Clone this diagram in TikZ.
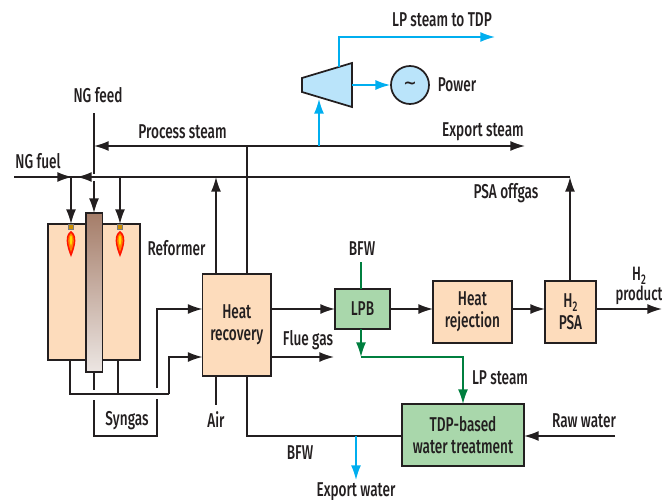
\documentclass[tikz,border=0pt]{standalone}
\usepackage{fontspec}
\setmainfont[FakeStretch=0.68]{Fira Sans Medium}
\newfontfamily\tildefont{DejaVu Sans Bold}
\usetikzlibrary{arrows.meta,calc}
\definecolor{peach}{HTML}{FDDCBC}
\definecolor{palegreen}{HTML}{A9D7AB}
\definecolor{paleblue}{HTML}{BAE4FA}
\definecolor{cyanline}{HTML}{00AEEF}
\definecolor{greenline}{HTML}{007F3F}
\definecolor{ink}{HTML}{231F20}
\tikzset{
  x=0.75pt,y=-0.75pt,
  flow/.style={draw=ink,line width=1.15pt},
  flowa/.style={flow,-{Latex[length=11pt,width=7.5pt]}},
  cyanflow/.style={draw=cyanline,line width=1.15pt},
  cyana/.style={cyanflow,-{Latex[length=11pt,width=7.5pt]}},
  greenflow/.style={draw=greenline,line width=1.15pt},
  greena/.style={greenflow,-{Latex[length=11pt,width=7.5pt]}},
  unit/.style={draw=ink,line width=1.3pt,outer sep=0pt,fill=peach,align=center,inner sep=0pt,text=ink,font=\fontsize{15}{16.5}\selectfont},
  gunit/.style={unit,fill=palegreen},
  lab/.style={text=ink,font=\fontsize{15}{15}\selectfont,inner sep=0pt,align=center},
}
\newcommand{\flame}[1]{%
  \fill[fill=orange!60!yellow!80!black,draw=ink!60,line width=0.3pt] ($(#1)+(-2.5,-3)$) rectangle ($(#1)+(2.5,2)$);
  \fill[red!85!orange] ($(#1)+(0,4)$) .. controls ($(#1)+(-6.5,8)$) and ($(#1)+(-5,18)$) .. ($(#1)+(0,30)$) .. controls ($(#1)+(5,18)$) and ($(#1)+(6.5,8)$) .. cycle;
  \fill[orange] ($(#1)+(0,6)$) .. controls ($(#1)+(-4.5,10)$) and ($(#1)+(-3,17)$) .. ($(#1)+(0,25)$) .. controls ($(#1)+(3,17)$) and ($(#1)+(4.5,10)$) .. cycle;
  \fill[yellow!80!orange] ($(#1)+(0,8)$) .. controls ($(#1)+(-2,11)$) and ($(#1)+(-1.5,15)$) .. ($(#1)+(0,19)$) .. controls ($(#1)+(1.5,15)$) and ($(#1)+(2,11)$) .. cycle;
}
\begin{document}
\begin{tikzpicture}
\useasboundingbox (0,0) rectangle (662,500);
% units
\node[unit,minimum width=69pt,minimum height=102pt,anchor=north west] (reformer) at (48,224) {};
\node[draw=ink,line width=1.3pt,outer sep=0pt,anchor=north west,minimum width=12.4pt,minimum height=119.5pt,inner sep=0pt,top color={rgb,255:red,165;green,125;blue,105},bottom color={rgb,255:red,236;green,230;blue,227}] (tube) at (86,213) {};
\node[unit,anchor=north west,minimum width=51.4pt,minimum height=76.5pt] (hr) at (202.5,274) {Heat\\recovery};
\node[gunit,anchor=north west,minimum width=41.2pt,minimum height=30pt] (lpb) at (335,289) {LPB};
\node[unit,anchor=north west,minimum width=59.2pt,minimum height=46.5pt] (hrej) at (433,281) {Heat\\rejection};
\node[unit,anchor=north west,minimum width=38.2pt,minimum height=46.5pt] (psa) at (545,281) {H\raisebox{-0.35ex}{\fontsize{10.5}{11}\selectfont 2}\\PSA};
\node[gunit,anchor=north west,minimum width=91.5pt,minimum height=46.5pt] (tdp) at (402,404) {TDP-based\\water treatment};
\node[draw=ink,line width=1.3pt,fill=paleblue,circle,minimum size=28.5pt,inner sep=0pt,text=ink,font=\tildefont\fontsize{12}{12}\selectfont] (gen) at (410,85) {\char"7E};
\coordinate (t1) at (302,78);\coordinate (t2) at (352,63);\coordinate (t3) at (352,107);\coordinate (t4) at (302,92);
\draw[draw=ink,line width=1.3pt,fill=paleblue] (t1)--(t2)--(t3)--(t4)--cycle;
\coordinate (b1) at (71,227);\coordinate (b2) at (120,227);
\flame{b1}\flame{b2}
% free ends
\coordinate (ngfeed) at (94,113);\coordinate (feedgap) at (94,174);\coordinate (feedin) at (94,181);
\coordinate (mainL) at (14,177);\coordinate (mainR) at (570,177);
\coordinate (fuelTip) at (72,177);\coordinate (offTip) at (77,177);
\coordinate (stL) at (94,146);\coordinate (stR) at (525,146);\coordinate (stJ) at (247,146);
\coordinate (t71) at (71,177);\coordinate (t119) at (120,177);
% main lines
\draw[flow] (ngfeed)--(feedgap);
\draw[flowa] (feedin)--(tube.north -| feedin);
\draw[flow] (mainL)--(mainR);
\draw[flowa] (mainL)--(fuelTip);
\draw[flowa] (mainR)--(offTip);
\draw[flowa] (t71)--(reformer.north west -| t71);
\draw[flowa] (t119)--(reformer.north west -| t119);
\draw[flowa] (stJ)--(stL);
\draw[flowa] (stJ)--(stR);
\draw[flow] (hr.north -| stJ)--(stJ);
\draw[flowa] (hr.north -| 216,0)--(216,177);
\draw[flowa] (psa.north -| mainR)--(mainR);
% syngas
\coordinate (s1) at (70,394);\coordinate (s2) at (118,394);\coordinate (s3) at (169,394);
\draw[flow] (reformer.south west -| s1)--(s1)--(s3);
\draw[flow] (reformer.south west -| s2)--(s2);
\draw[flowa] (s3)--(169,357)--(hr.west |- 0,357);
\coordinate (s4) at (94,390);\coordinate (s5) at (94,400);\coordinate (s6) at (94,436);\coordinate (s7) at (157,436);\coordinate (s8) at (157,399);\coordinate (s9) at (157,388);
\draw[flow] (tube.south -| s4)--(s4);
\draw[flow] (s5)--(s6)--(s7)--(s8);
\draw[flowa] (s9)--(157,309)--(hr.west |- 0,309);
% process
\draw[flowa] (hr.east |- lpb.west)--(lpb.west);
\draw[flowa] (lpb.east)--(hrej.west |- lpb.east);
\draw[flowa] (hrej.east |- 0,309)--(psa.west |- 0,309);
\coordinate (h2end) at (662,309);
\draw[flowa] (psa.east |- 0,309)--(h2end);
\coordinate (fg) at (334,357);
\draw[flowa] (hr.east |- fg)--(fg);
\coordinate (air) at (216,405);
\draw[flow] (hr.south -| air)--(air);
\coordinate (bfw1) at (247,436);
\draw[flow] (hr.south -| bfw1)--(bfw1)--(tdp.west |- bfw1);
\coordinate (raw) at (615,436);
\draw[flowa] (raw)--(tdp.east |- raw);
% water / steam colours
\coordinate (ex1) at (356,436);\coordinate (ex2) at (356,480);
\draw[cyana] (ex1)--(ex2);
\coordinate (bf) at (361,262);
\draw[greenflow] (bf)--(lpb.north -| bf);
\coordinate (g1) at (361,357);\coordinate (g2) at (463,357);
\draw[greena] (lpb.south -| g1)--(g1);
\draw[greena] (g1)--(g2)--(tdp.north -| g2);
\coordinate (c0) at (319,146);\coordinate (c1) at (319,99);
\draw[cyana] (c0)--(c1);
\coordinate (c2) at (339,67);\coordinate (c3) at (339,37);\coordinate (c4) at (495,37);
\draw[cyana] (c2)--(c3)--(c4);
\coordinate (c5) at (352,85);
\draw[cyana] (c5)--(gen.west);
% labels
\node[lab] (l1) at (98,95) {NG feed};
\node[lab] (l2) at (38,161) {NG fuel};
\node[lab] (l3) at (182.5,132) {Process steam};
\node[lab] (l4) at (442,20) {LP steam to TDP};
\node[lab] (l5) at (457,85) {Power};
\node[lab] (l6) at (483,132) {Export steam};
\node[lab] (l7) at (506,193) {PSA offgas};
\node[lab] (l8) at (176.5,248) {Reformer};
\node[lab] (l9) at (362,249) {BFW};
\node[lab] (l10) at (308,340) {Flue gas};
\node[lab] (l11) at (127,421) {Syngas};
\node[lab] (l12) at (216,420) {Air};
\node[lab] (l13) at (300,453) {BFW};
\node[lab] (l14) at (356,492) {Export water};
\node[lab] (l15) at (500,378) {LP steam};
\node[lab] (l16) at (584,421) {Raw water};
\node[lab,font=\fontsize{14.5}{15}\selectfont] (l17) at (639,286) {H\raisebox{-0.35ex}{\fontsize{10.5}{11}\selectfont 2}\\product};
\end{tikzpicture}
\end{document}
